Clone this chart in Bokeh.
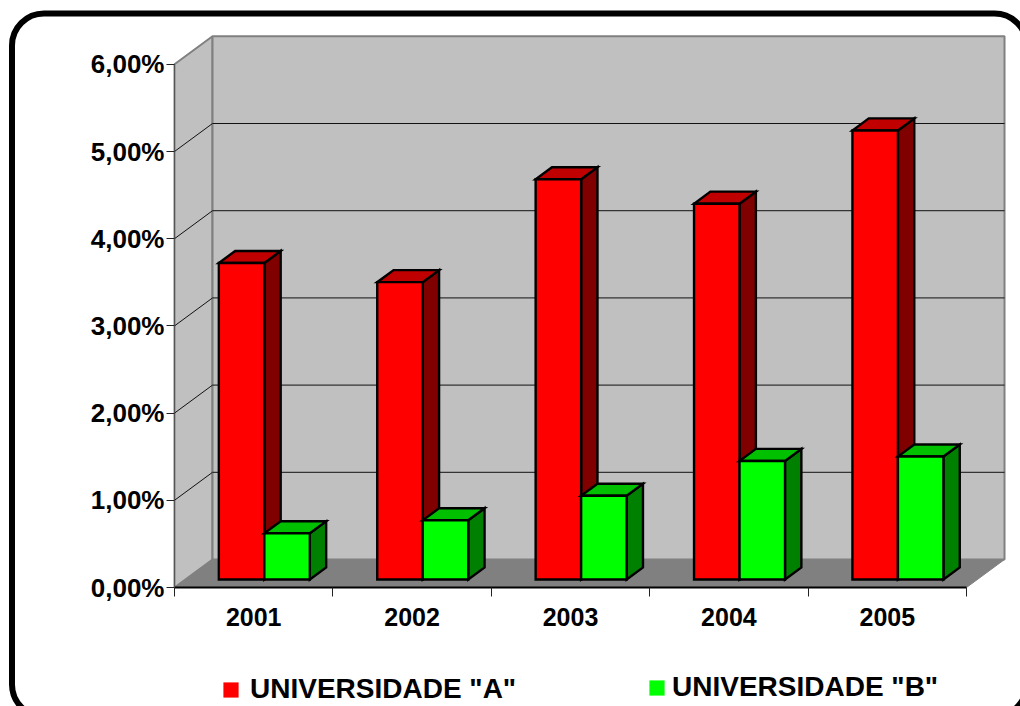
from bokeh.embed import file_html
from bokeh.models import (BoxAnnotation, ColumnDataSource, FixedTicker, Legend,
                          LegendItem, Range1d)
from bokeh.plotting import figure
from bokeh.resources import INLINE

# Values in percent, per year
years = ["2001", "2002", "2003", "2004", "2005"]
univ_a = [3.63, 3.41, 4.59, 4.31, 5.15]
univ_b = [0.53, 0.68, 0.96, 1.36, 1.41]
y_tick_values = [0, 1, 2, 3, 4, 5, 6]
y_tick_labels = ["0,00%", "1,00%", "2,00%", "3,00%", "4,00%", "5,00%", "6,00%"]
series_names = ['UNIVERSIDADE "A"', 'UNIVERSIDADE "B"']

# Oblique projection: a point at depth z (0 front, 1 back) shifts right and up
SHIFT_X = 0.24
SHIFT_Y = 0.321
BAR_Z0, BAR_Z1 = 0.285, 0.715
GAP = 0.2115
BAR_W = 0.2872
Y_MAX = 6.0

# Canvas layout in pixels
WIDTH, HEIGHT = 1020, 706
ORIGIN_X, ORIGIN_Y = 174, 587
PX_PER_YEAR, PX_PER_UNIT = 158.4, 87.2


def proj(x, y, z):
    return x + z * SHIFT_X, y + z * SHIFT_Y


def face(points):
    pts = [proj(*pt) for pt in points]
    return [pt[0] for pt in pts], [pt[1] for pt in pts]


p = figure(width=WIDTH, height=HEIGHT, output_backend="svg", toolbar_location=None,
           x_range=Range1d(-ORIGIN_X / PX_PER_YEAR, (WIDTH - ORIGIN_X) / PX_PER_YEAR),
           y_range=Range1d(-(HEIGHT - ORIGIN_Y) / PX_PER_UNIT, ORIGIN_Y / PX_PER_UNIT),
           min_border=0, outline_line_color=None,
           background_fill_color="white", border_fill_color="white")
p.grid.visible = False

n = len(years)
walls = [
    (face([(0, 0, 0), (0, Y_MAX, 0), (0, Y_MAX, 1), (0, 0, 1)]), "#C0C0C0"),
    (face([(0, 0, 1), (0, Y_MAX, 1), (n, Y_MAX, 1), (n, 0, 1)]), "#C0C0C0"),
]
for (xs, ys), col in walls:
    p.patch(xs, ys, fill_color=col, line_color="#808080", line_width=2)
floor_x, floor_y = face([(0, 0, 0), (n, 0, 0), (n, 0, 1), (0, 0, 1)])
p.patch(floor_x, floor_y, fill_color="#808080", line_color="#808080", line_width=1)

# Gridlines run up the side wall, then across the back wall
grid_xs, grid_ys = [], []
for v in y_tick_values[1:-1]:
    gx, gy = face([(0, v, 0), (0, v, 1), (n, v, 1)])
    grid_xs.append(gx)
    grid_ys.append(gy)
p.multi_line(grid_xs, grid_ys, line_color="#111111", line_width=1)

# Each bar is three faces, painted back to front
faces = {"xs": [], "ys": [], "color": []}


def add_bar(x0, height, front, top, side):
    x1 = x0 + BAR_W
    z0, z1 = BAR_Z0, BAR_Z1
    for pts, col in (
        ([(x1, 0, z0), (x1, 0, z1), (x1, height, z1), (x1, height, z0)], side),
        ([(x0, height, z0), (x1, height, z0), (x1, height, z1), (x0, height, z1)], top),
        ([(x0, 0, z0), (x1, 0, z0), (x1, height, z0), (x0, height, z0)], front),
    ):
        xs, ys = face(pts)
        faces["xs"].append(xs)
        faces["ys"].append(ys)
        faces["color"].append(col)


for k, (a, b) in enumerate(zip(univ_a, univ_b)):
    add_bar(k + GAP, a, "#FF0000", "#C00000", "#800000")
    add_bar(k + GAP + BAR_W, b, "#00FF00", "#00C000", "#008000")

p.patches("xs", "ys", source=ColumnDataSource(faces), fill_color="color",
          line_color="black", line_width=2.4, line_join="miter")

# Axes sit inside the full-canvas frame, on the front edge of the chart box
LABEL_FONT = "Liberation Sans"
yax = p.yaxis[0]
yax.fixed_location = 0
yax.bounds = (0, Y_MAX)
yax.ticker = FixedTicker(ticks=y_tick_values)
yax.major_label_overrides = dict(zip(y_tick_values, y_tick_labels))
yax.major_label_text_font = LABEL_FONT
yax.major_label_text_font_style = "bold"
yax.major_label_text_font_size = "26px"
yax.major_label_text_color = "black"
yax.major_label_standoff = 2
yax.major_tick_out = 8
yax.major_tick_in = 0
yax.minor_tick_line_color = None
yax.major_tick_line_color = "#222222"
yax.axis_line_color = "#555555"

centres = [k + 0.5 for k in range(n)]
xax = p.xaxis[0]
xax.fixed_location = 0
xax.bounds = (0, n)
xax.ticker = FixedTicker(ticks=centres, minor_ticks=list(range(n + 1)))
xax.major_label_overrides = dict(zip(centres, years))
xax.major_label_text_font = LABEL_FONT
xax.major_label_text_font_style = "bold"
xax.major_label_text_font_size = "25px"
xax.major_label_text_color = "black"
xax.major_label_standoff = 11
xax.major_tick_line_color = None
xax.minor_tick_out = 9
xax.minor_tick_in = 0
xax.minor_tick_line_color = "#222222"
xax.axis_line_color = "black"
xax.axis_line_width = 2

# One legend per series; the keys come from undrawn quads so they are plain squares
nan = float("nan")
swatch_a = p.quad(left=[nan], right=[nan], bottom=[nan], top=[nan],
                  fill_color="#FF0000", line_color=None)
swatch_b = p.quad(left=[nan], right=[nan], bottom=[nan], top=[nan],
                  fill_color="#00FF00", line_color=None)
for renderer, name, loc, standoff in (
    (swatch_a, series_names[0], (221, 1), 10),
    (swatch_b, series_names[1], (647, 3), 6),
):
    legend = Legend(items=[LegendItem(label=name, renderers=[renderer])], location=loc,
                    glyph_width=19, glyph_height=19, label_standoff=standoff,
                    label_text_font=LABEL_FONT, label_text_font_style="bold",
                    label_text_font_size="28px", label_text_color="black",
                    label_height=15, padding=0, margin=0, spacing=0,
                    background_fill_alpha=0, border_line_color=None)
    p.add_layout(legend, "center")

# Rounded outer border, running past the right and bottom of the page
p.add_layout(BoxAnnotation(left=11.5, right=1026, top=HEIGHT - 13, bottom=-10,
                           left_units="screen", right_units="screen",
                           top_units="screen", bottom_units="screen",
                           fill_alpha=0, line_color="black", line_width=6, line_alpha=1,
                           border_radius=32, editable=False))

open("out.html", "w").write(file_html(p, INLINE))
